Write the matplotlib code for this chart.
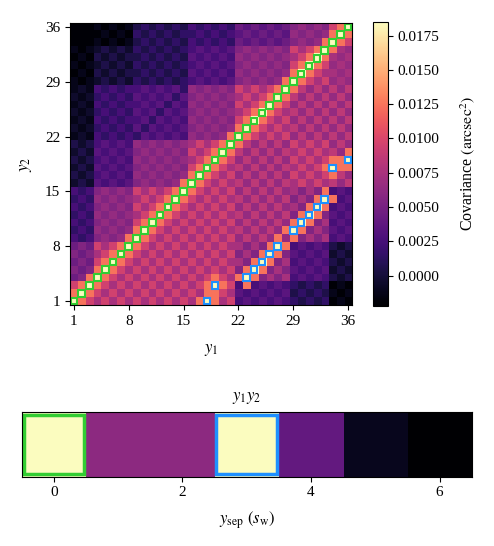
import numpy as np
import matplotlib
matplotlib.use("Agg")
import matplotlib.pyplot as plt
import matplotlib.patches as patches

plt.rcParams['font.family'] = ['Liberation Serif', 'DejaVu Serif']
plt.rcParams['mathtext.fontset'] = 'stix'
plt.rcParams['font.size'] = 11

# covariance levels (arcsec^2), one character per matrix cell
levels = {
    '0': -0.0020, '1': -0.0012, '2': -0.0005, '3': 0.0005, '4': 0.0015,
    '5': 0.0025, '6': 0.0035, '7': 0.0045, '8': 0.0055, '9': 0.0065,
    'a': 0.0075, 'b': 0.0085, 'c': 0.0095, 'd': 0.0105, 'e': 0.0125,
    'Y': 0.0185,
}

# rows are y2 = 1 .. 36, characters are y1 = 1 .. 36
cov_rows = [
    "Yec" "acaca" "cacacac" "aeYeac" "5656565" "43434" "010",
    "eYe" "cacac" "acacaca" "caeeca" "6565656" "34343" "101",
    "ceY" "ecaca" "cacacac" "aceYec" "5e56565" "43434" "010",
    "78e" "Yecac" "acacaca" "caceca" "eYe8a8a" "56565" "323",
    "878" "eYeca" "cacacac" "acacac" "8eYe8a8" "65656" "232",
    "787" "ceYec" "acacaca" "cacaca" "a8eYe8a" "56565" "323",
    "878" "aceYe" "cacacac" "acacac" "8a8eYe8" "65656" "232",
    "787" "caceY" "ecacaca" "cacaca" "a8a8eYe" "56565" "323",
    "545" "8989e" "Yecacac" "acacac" "9b9b9e9" "e8a8a" "565",
    "454" "98989" "eYecaca" "cacaca" "b9b9b9e" "Ye8a8" "656",
    "545" "89898" "ceYecac" "acacac" "9b9b9b9" "eYe8a" "565",
    "454" "98989" "aceYeca" "cacaca" "b9b9b9b" "8eYe8" "656",
    "545" "89898" "caceYec" "acacac" "9b9b9b9" "a8eYe" "565",
    "454" "98989" "acaceYe" "cacaca" "b9b9b9b" "8a8eY" "e56",
    "545" "89898" "cacaceY" "ecacac" "9b9b9b9" "a8a8e" "565",
    "232" "65656" "898989e" "Yecaca" "b9b9b9b" "acaca" "b9b",
    "323" "56565" "9898989" "eYecac" "9b9b9b9" "cacac" "eb9",
    "232" "65656" "8989898" "ceYeca" "b9b9b9b" "acace" "Yee",
    "323" "56565" "9898989" "aceYec" "9b9b9b9" "cacac" "eeY",
    "232" "65656" "8989898" "caceYe" "b9b9b9b" "acaca" "b9e",
    "323" "56565" "9898989" "acaceY" "eb9b9b9" "cacac" "9b9",
    "121" "54545" "4656565" "98989e" "Yecacac" "9b9b9" "b9b",
    "212" "45454" "6465656" "898989" "eYecaca" "b9b9b" "9b9",
    "121" "54545" "5646565" "989898" "ceYecac" "9b9b9" "b9b",
    "212" "45454" "6564656" "898989" "aceYeca" "b9b9b" "9b9",
    "121" "54545" "5656465" "989898" "caceYec" "9b9b9" "b9b",
    "212" "45454" "6565646" "898989" "acaceYe" "b9b9b" "9b9",
    "121" "54545" "5656564" "989898" "cacaceY" "eb9b9" "b9b",
    "101" "23232" "4343434" "565656" "898989e" "Yecac" "9a9",
    "010" "32323" "3434343" "656565" "9898989" "eYeca" "a9a",
    "101" "23232" "4343434" "565656" "8989898" "ceYec" "9a9",
    "010" "32323" "3434343" "656565" "9898989" "aceYe" "a9a",
    "101" "23232" "4343434" "565656" "8989898" "caceY" "ea9",
    "000" "10101" "3434343" "545454" "7676767" "8989e" "Yec",
    "000" "01010" "4343434" "454545" "6767676" "98989" "eYe",
    "000" "10101" "3434343" "545454" "7676767" "89898" "ceY",
]

# cells with separation of 3 slit widths (y1, y2)
blue_cells = [(18, 1), (19, 3), (23, 4), (24, 5), (25, 6), (26, 7), (27, 8),
              (29, 10), (30, 11), (31, 12), (32, 13), (33, 14), (34, 18), (36, 19)]

# covariance vs separation (bottom strip)
sep_labels = [0, 1, 2, 3, 4, 5, 6]
sep_values = [0.0185, 0.0061, 0.0061, 0.0185, 0.0040, -0.0010, -0.0022]

n = 36
ticks = [1, 8, 15, 22, 29, 36]
vmin, vmax = -0.0022, 0.0185

cov = np.array([[levels[ch] for ch in row] for row in cov_rows])

fig = plt.figure(figsize=(4.94, 5.46), dpi=100)

ax = fig.add_axes([0.1417, 0.4414, 0.571, 0.5165])
im = ax.imshow(cov, cmap='magma', vmin=vmin, vmax=vmax, origin='lower',
               extent=(0.5, n + 0.5, 0.5, n + 0.5), interpolation='nearest')

for k in range(1, n + 1):
    ax.add_patch(patches.Rectangle((k - 0.42, k - 0.42), 0.84, 0.84, fill=False,
                                   edgecolor='limegreen', linewidth=1.5))
for (i, j) in blue_cells:
    ax.add_patch(patches.Rectangle((i - 0.42, j - 0.42), 0.84, 0.84, fill=False,
                                   edgecolor='dodgerblue', linewidth=1.5))

ax.set_xticks(ticks)
ax.set_yticks(ticks)
ax.set_xlim(0.5, n + 0.5)
ax.set_ylim(0.5, n + 0.5)
ax.set_xlabel('$y_1$', fontsize=12, labelpad=10)
ax.set_ylabel('$y_2$', fontsize=12, labelpad=8)

cax = fig.add_axes([0.755, 0.440, 0.0304, 0.520])
cb = fig.colorbar(im, cax=cax)
cb.set_ticks(np.arange(0, 0.018, 0.0025))
cb.ax.set_yticklabels(['%.4f' % t for t in np.arange(0, 0.018, 0.0025)])
cb.set_label(r'Covariance $\left(\mathrm{arcsec}^2\right)$', fontsize=11.5, labelpad=13)

ax2 = fig.add_axes([0.0439, 0.1269, 0.911, 0.118])
ax2.imshow(np.array([sep_values]), cmap='magma', vmin=vmin, vmax=vmax,
           extent=(-0.5, 6.5, -0.5, 0.5), aspect='auto', interpolation='nearest')
ax2.add_patch(patches.Rectangle((-0.47, -0.46), 0.94, 0.92, fill=False,
                                edgecolor='limegreen', linewidth=2.5))
ax2.add_patch(patches.Rectangle((2.53, -0.46), 0.94, 0.92, fill=False,
                                edgecolor='dodgerblue', linewidth=2.5))
ax2.set_xticks([0, 2, 4, 6])
ax2.set_yticks([])
ax2.set_title('$y_1y_2$', fontsize=12, pad=9)
ax2.set_xlabel(r'$y_{\mathrm{sep}}\ \left(s_{\mathrm{w}}\right)$', fontsize=12, labelpad=7)

fig.savefig('out.png', dpi=100)
